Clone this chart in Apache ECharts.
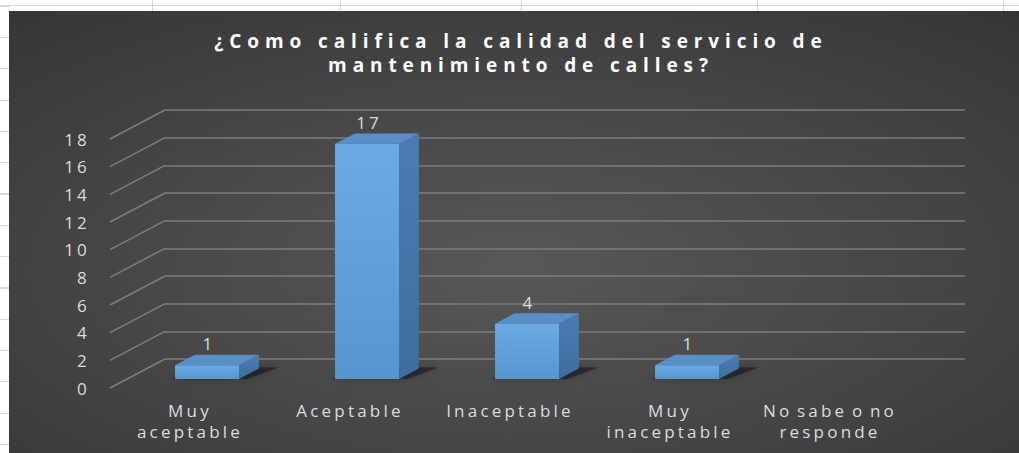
<!DOCTYPE html>
<html>
<head>
<meta charset="utf-8">
<script src="https://cdn.jsdelivr.net/npm/echarts@6/dist/echarts.min.js"></script>
<style>
  html, body { margin: 0; padding: 0; width: 1019px; height: 453px; overflow: hidden; background: #fff; }
  /* hoja de calculo detras del grafico */
  .sheet {
    position: absolute; left: 0; top: 0; width: 1019px; height: 453px;
    background:
      linear-gradient(#d6d6d6, #d6d6d6) 0 5px / 1019px 1px no-repeat,
      linear-gradient(#d6d6d6, #d6d6d6) 152px 0 / 1px 12px no-repeat,
      linear-gradient(#d6d6d6, #d6d6d6) 340px 0 / 1px 12px no-repeat,
      linear-gradient(#d6d6d6, #d6d6d6) 521px 0 / 1px 12px no-repeat,
      linear-gradient(#d6d6d6, #d6d6d6) 757px 0 / 1px 12px no-repeat,
      linear-gradient(#d6d6d6, #d6d6d6) 1003px 0 / 1px 12px no-repeat,
      repeating-linear-gradient(to bottom, transparent 0, transparent 5.6px, #d6d6d6 5.6px, #d6d6d6 6.8px, transparent 6.8px, transparent 31.3px) 0 0 / 10px 453px no-repeat;
  }
  #chart { position: absolute; left: 9px; top: 11px; width: 1010px; height: 442px; }
  #chart text { letter-spacing: 3.2px; word-spacing: -3px; }
  #chart text[fill="#fefefe"] { letter-spacing: 5.9px; word-spacing: 0; }
</style>
</head>
<body>
<div class="sheet"></div>
<div id="chart"></div>
<script>
// datos
var categories = ['Muy\naceptable', 'Aceptable', 'Inaceptable', 'Muy\ninaceptable', 'No sabe o no\nresponde'];
var votes = [1, 17, 4, 1, null];
var yTicks = [0, 2, 4, 6, 8, 10, 12, 14, 16, 18];

// desplazamiento de la perspectiva (pared del fondo -> frente)
var DX = 55, DY = 29;
var D_FRONT = 0.69, D_BACK = 0.33;
var LINE = '#7d7d7d';
var TXT = '#dcdcdc';

var chart = echarts.init(document.getElementById('chart'), null, { renderer: 'svg' });

function renderBar(params, api) {
  var v = api.value(1);
  if (v == null || isNaN(v)) return;
  var i = api.value(0);
  var base = api.coord([i, 0]);
  var top = api.coord([i, v]);
  var w = api.size([1, 0])[0] * 0.4;

  var fx = base[0] - DX * D_FRONT - w / 2;
  var bx = base[0] - DX * D_BACK - w / 2;
  var fTop = top[1] + DY * D_FRONT, fBot = base[1] + DY * D_FRONT;
  var bTop = top[1] + DY * D_BACK, bBot = base[1] + DY * D_BACK;

  return {
    type: 'group',
    children: [
      {
        type: 'polygon',
        shape: { points: [[fx - 4, fBot], [fx + w + 8, fBot], [bx + w + 20, bBot - 1], [bx + 6, bBot - 2]] },
        style: { fill: 'rgba(0,0,0,0.4)', shadowBlur: 10, shadowColor: 'rgba(0,0,0,0.6)' },
        silent: true
      },
      {
        type: 'polygon',
        shape: { points: [[fx + w, fTop], [bx + w, bTop], [bx + w, bBot], [fx + w, fBot]] },
        style: {
          fill: {
            type: 'linear', x: 0, y: 0, x2: 0, y2: 1,
            colorStops: [{ offset: 0, color: '#4a7cb3' }, { offset: 1, color: '#3f6d9f' }]
          }
        }
      },
      {
        type: 'polygon',
        shape: { points: [[fx, fTop], [fx + w, fTop], [bx + w, bTop], [bx, bTop]] },
        style: { fill: '#5a8ec8' }
      },
      {
        type: 'rect',
        shape: { x: fx, y: fTop, width: w, height: fBot - fTop },
        style: {
          fill: {
            type: 'linear', x: 0, y: 0, x2: 0, y2: 1,
            colorStops: [{ offset: 0, color: '#6baae6' }, { offset: 1, color: '#5894d2' }]
          }
        }
      },
      {
        type: 'text',
        x: fx + w / 2 + 2,
        y: bTop - 11,
        style: {
          text: String(v),
          textAlign: 'center',
          textVerticalAlign: 'middle',
          fill: TXT,
          font: '17px "Open Sans"'
        }
      }
    ]
  };
}

function renderDiag(params, api) {
  var p = api.coord([0, api.value(1)]);
  var left = params.coordSys.x;
  return {
    type: 'line',
    shape: { x1: left, y1: p[1], x2: left - DX, y2: p[1] + DY },
    style: { stroke: LINE, lineWidth: 1.6 }
  };
}

var option = {
  backgroundColor: {
    type: 'radial', x: 0.5, y: 0.58, r: 1.15,
    colorStops: [{ offset: 0, color: '#585858' }, { offset: 1, color: '#242424' }]
  },
  title: {
    text: '¿Como califica la calidad del servicio de\nmantenimiento de calles?',
    left: 512,
    top: 18,
    textAlign: 'center',
    padding: 0,
    textStyle: {
      color: '#fefefe',
      fontFamily: 'Open Sans',
      fontWeight: 'bold',
      fontSize: 19,
      lineHeight: 24
    }
  },
  animation: false,
  grid: [
    { left: 156, right: 54, top: 99, bottom: 94 },
    { left: 101, right: 109, top: 128, bottom: 65 }
  ],
  xAxis: [
    {
      gridIndex: 0, type: 'category', data: categories,
      axisLine: { show: false }, axisTick: { show: false }, axisLabel: { show: false }, splitLine: { show: false }
    },
    {
      gridIndex: 1, type: 'category', data: categories,
      axisLine: { show: false }, axisTick: { show: false }, splitLine: { show: false },
      axisLabel: {
        color: TXT, fontFamily: 'Open Sans', fontSize: 17, lineHeight: 21,
        margin: 12, interval: 0, verticalAlign: 'top'
      }
    }
  ],
  yAxis: [
    {
      gridIndex: 0, type: 'value', min: 0, max: 18, interval: 2,
      axisLine: { show: false }, axisTick: { show: false }, axisLabel: { show: false },
      splitLine: { show: true, lineStyle: { color: LINE, width: 1.6 } }
    },
    {
      gridIndex: 1, type: 'value', min: 0, max: 18, interval: 2,
      axisLine: { show: false }, axisTick: { show: false }, splitLine: { show: false },
      axisLabel: { color: TXT, fontFamily: 'Open Sans', fontSize: 17, margin: 20 }
    }
  ],
  series: [
    {
      type: 'custom',
      xAxisIndex: 0, yAxisIndex: 0,
      renderItem: renderDiag,
      data: yTicks.map(function (t) { return [0, t]; }),
      silent: true,
      z: 1
    },
    {
      type: 'custom',
      xAxisIndex: 0, yAxisIndex: 0,
      renderItem: renderBar,
      data: votes.map(function (v, i) { return [i, v]; }),
      z: 3
    }
  ]
};

chart.setOption(option);
</script>
</body>
</html>
